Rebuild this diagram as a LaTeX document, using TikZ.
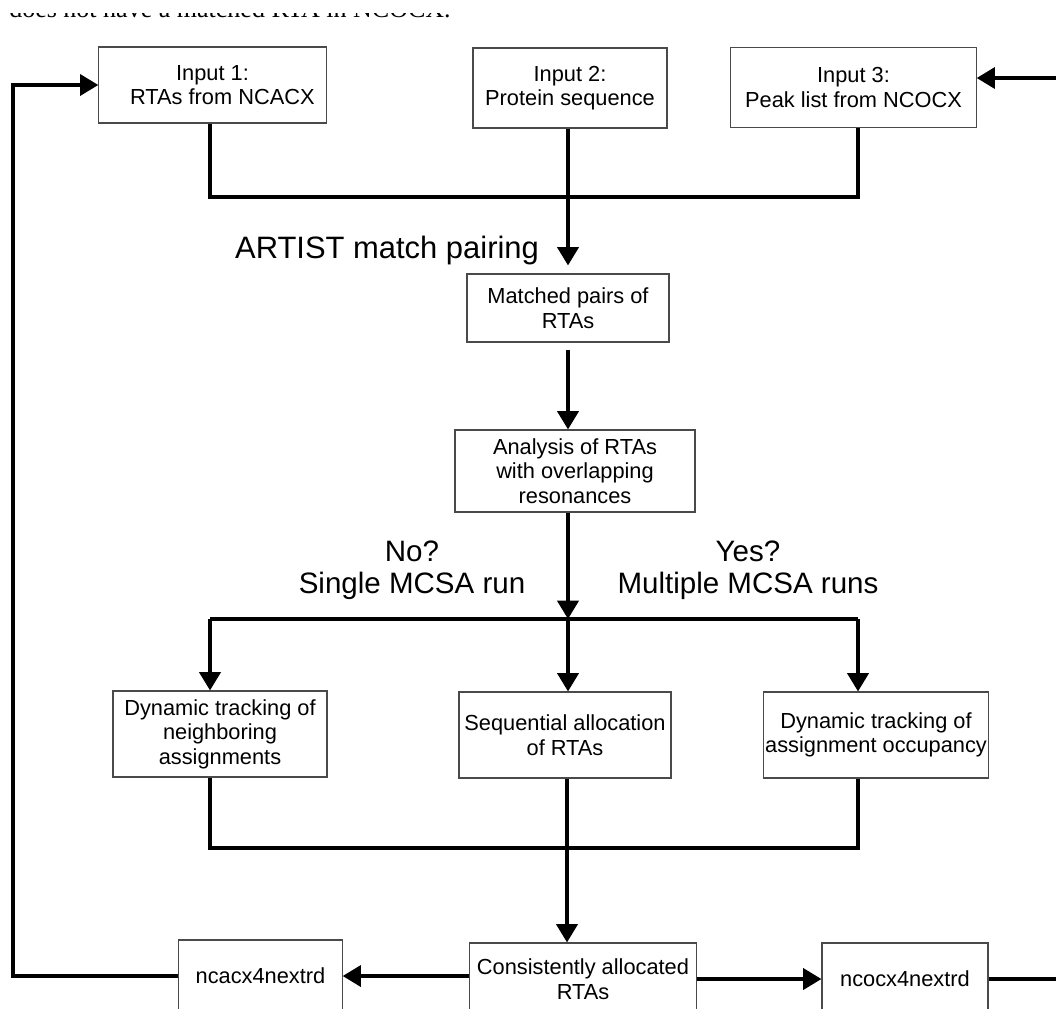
\documentclass[tikz,border=0pt]{standalone}
\usepackage{fontspec}
\setmainfont{Liberation Sans}
\newfontfamily\notefont{Liberation Serif}
\usetikzlibrary{arrows.meta,positioning,calc}
\definecolor{ink}{HTML}{000000}
\definecolor{frame}{HTML}{4A4A4A}

\begin{document}
\begin{tikzpicture}[x=0.025cm,y=-0.025cm,font=\fontsize{15.5}{17.5}\selectfont,>={Triangle[length=13pt,width=15pt]}]
\tikzset{box/.style={draw=frame,line width=0.8pt,align=center,inner sep=1pt}, flow/.style={draw=ink,line width=2.5pt}, big/.style={font=\fontsize{21}{23}\selectfont,align=center,inner sep=0pt}}
\useasboundingbox (0,0) rectangle (1056,1008);
\clip (0,0) rectangle (1056,1008);
\begin{scope}
\clip (0,13) rectangle (1056,40);
\node[anchor=base west,inner sep=0pt,font=\notefont\fontsize{18.5}{20}\selectfont] (note) at (9,17.5) {does not have a matched RTA in NCOCX.};
\end{scope}
% inputs
\node[box,minimum width=5.68cm,minimum height=1.9cm] (in1) at (212.5,85) {Input 1:\\\hspace*{14pt}RTAs from NCACX};
\node[box,minimum width=4.85cm,minimum height=2.0cm] (in2) at (570,88) {Input 2:\\ Protein sequence};
\node[box,minimum width=6.13cm,minimum height=1.98cm] (in3) at (853.5,87.5) {Input 3:\\Peak list from NCOCX};
\node[big,font=\fontsize{22}{24}\selectfont] (artist) at (387,250) {ARTIST match pairing};
\node[box,minimum width=5.05cm,minimum height=1.7cm] (match) at (568,308) {Matched pairs of\\RTAs};
\node[box,minimum width=6.0cm,minimum height=2.05cm] (anal) at (575,471) {Analysis of RTAs\\with overlapping\\resonances};
\node[big] (no) at (412,570) {No?\\Single MCSA run};
\node[big] (yes) at (748,570) {Yes?\\Multiple MCSA runs};
% three strategies
\node[box,minimum width=5.35cm,minimum height=2.15cm] (dyn1) at (220,734) {Dynamic tracking of\\neighboring\\assignments};
\node[box,minimum width=5.3cm,minimum height=2.15cm] (seq) at (565,735) {Sequential allocation\\of RTAs};
\node[box,minimum width=5.35cm,minimum height=2.15cm] (dyn3) at (876,735) {Dynamic tracking of\\assignment occupancy};
% outputs
\node[box,minimum width=5.68cm,minimum height=1.8cm] (cons) at (583,979) {Consistently allocated\\RTAs};
\node[box,minimum width=4.08cm,minimum height=1.8cm] (ncacx) at (260.5,976) {ncacx4nextrd};
\node[box,minimum width=4.15cm,minimum height=1.8cm] (ncocx) at (905,979) {ncocx4nextrd};
\coordinate (tjoin) at (568,197);
\coordinate (split) at (568,619);
\coordinate (sl) at (210,619);
\coordinate (sr) at (858,619);
\coordinate (ml) at (210,848);
\coordinate (mjoin) at (567,848);
\coordinate (mr) at (858,848);
\coordinate (lx) at (13,500);
\coordinate (rx) at (1064,500);
\coordinate (rin) at (1064,78);
\draw[flow] (in1.south -| sl) |- (tjoin);
\draw[flow] (in3.south -| sr) |- (tjoin);
\draw[flow,->] (in2.south -| tjoin) -- ($(tjoin |- match.north)+(0,-8)$);
\draw[flow,->] ($(split |- match.south)+(0,7)$) -- (split |- anal.north);
\draw[flow,->] (split |- anal.south) -- (split);
\draw[flow] (sl) -- (sr);
\draw[flow,->] (sl) -- (sl |- dyn1.north);
\draw[flow,->] (split) -- (split |- seq.north);
\draw[flow,->] (sr) -- (sr |- dyn3.north);
\draw[flow] (ml |- dyn1.south) -- (ml) -- (mr) -- (mr |- dyn3.south);
\draw[flow] (mjoin |- seq.south) -- (mjoin);
\draw[flow,->] (mjoin) -- (mjoin |- cons.north);
\draw[flow,->] (cons.west |- ncacx.east) -- (ncacx.east);
\draw[flow,->] (cons.east) -- (ncocx.west);
% feedback loops
\draw[flow,->] (ncacx.west) -| (lx) |- (in1.west);
\draw[flow] (ncocx.east) -| (rx);
\draw[flow,->] (rx) |- (rin) -- (rin -| in3.east);
\end{tikzpicture}
\end{document}
